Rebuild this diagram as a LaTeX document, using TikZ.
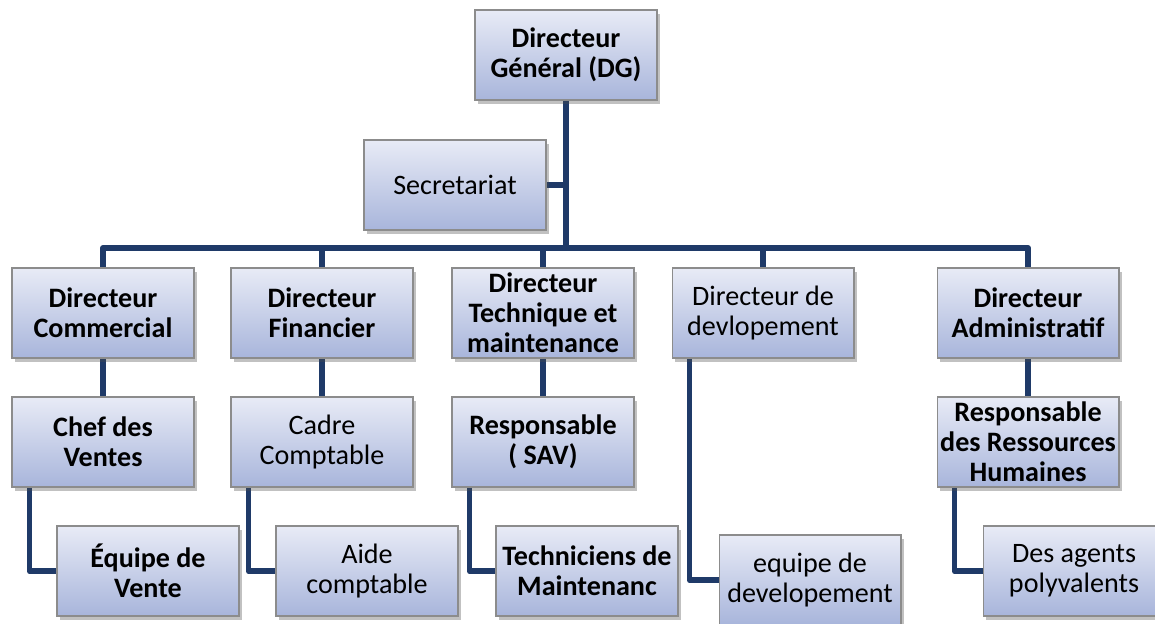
\documentclass[tikz,border=0pt]{standalone}
\usepackage{fontspec}
\setmainfont{Carlito}
\usetikzlibrary{shadows,backgrounds}

\definecolor{linkblue}{RGB}{31,58,104}
\definecolor{boxtop}{RGB}{232,235,246}
\definecolor{boxbottom}{RGB}{168,181,219}
\definecolor{boxline}{RGB}{140,140,140}

\tikzset{
  orgbox/.style={draw=boxline, line width=0.6pt, top color=boxtop, bottom color=boxbottom,
    minimum width=3.64cm, minimum height=1.8cm, align=center, inner sep=1pt,
    font=\fontsize{16}{17.2}\selectfont,
    drop shadow={shadow xshift=1.6pt, shadow yshift=-2pt, opacity=0.35, fill=black!70}},
  bossbox/.style={orgbox, font=\fontsize{16}{17.2}\selectfont\bfseries},
  link/.style={draw=linkblue, line width=3.4pt, line join=round}
}

\begin{document}
\begin{tikzpicture}[x=0.02cm, y=-0.02cm]
      \useasboundingbox (0,0) rectangle (1155,623);

      \coordinate (bus) at (566,248);

      \node[bossbox] (dg) at (566,55) {Directeur\\Général (DG)};
      \node[orgbox] (sec) at (455,185) {Secretariat};

      \node[bossbox] (dcom) at (103,313) {Directeur\\Commercial};
      \node[bossbox] (dfin) at (322,313) {Directeur\\Financier};
      \node[bossbox] (dtech) at (543,313) {Directeur\\Technique et\\maintenance};
      \node[orgbox] (ddev) at (763,313) {Directeur de\\devlopement};
      \node[bossbox] (dadm) at (1028,313) {Directeur\\Administratif};

      \node[bossbox] (chef) at (103,442) {Chef des\\Ventes};
      \node[orgbox] (cadre) at (322,442) {Cadre\\Comptable};
      \node[bossbox] (sav) at (543,442) {Responsable\\( SAV)};
      \node[bossbox] (rh) at (1028,442) {Responsable\\des Ressources\\Humaines};

      \node[bossbox] (equipe) at (148,571) {Équipe de\\Vente};
      \node[orgbox] (aide) at (367,571) {Aide\\comptable};
      \node[bossbox] (tech) at (587,571) {Techniciens de\\Maintenanc};
      \node[orgbox] (edev) at (810,580) {equipe de\\developement};
      \node[orgbox] (agents) at (1074,571) {Des agents\\polyvalents};

      % connectors behind the boxes
      \begin{scope}[on background layer]
        \draw[link] (dg.south) -- (bus);
        \draw[link] (sec.east) -- (sec.east -| bus);
        \draw[link] (dcom.north) |- (bus) -| (dadm.north);
        \draw[link] (dfin.north) -- (dfin.north |- bus);
        \draw[link] (dtech.north) -- (dtech.north |- bus);
        \draw[link] (ddev.north) -- (ddev.north |- bus);

        \draw[link] (dcom.south) -- (chef.north);
        \draw[link] (dfin.south) -- (cadre.north);
        \draw[link] (dtech.south) -- (sav.north);
        \draw[link] (dadm.south) -- (rh.north);

        \draw[link] ([xshift=0.36cm]chef.south west) |- (equipe.west);
        \draw[link] ([xshift=0.36cm]cadre.south west) |- (aide.west);
        \draw[link] ([xshift=0.36cm]sav.south west) |- (tech.west);
        \draw[link] ([xshift=0.36cm]ddev.south west) |- (edev.west);
        \draw[link] ([xshift=0.36cm]rh.south west) |- (agents.west);
      \end{scope}
\end{tikzpicture}
\end{document}
